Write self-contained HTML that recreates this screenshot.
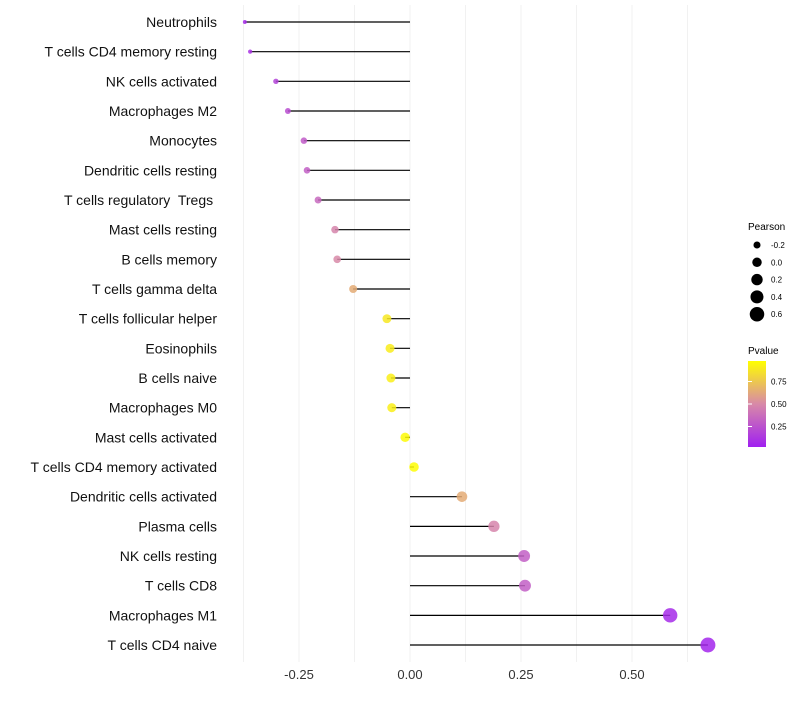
<!DOCTYPE html>
<html><head><meta charset="utf-8"><style>
body{margin:0;background:#fff;font-family:"Liberation Sans",sans-serif;}
svg text{font-family:"Liberation Sans",sans-serif;white-space:pre;}
</style></head><body>
<svg id="chart" width="800" height="700">
<g id="grid"></g><g id="marks"></g><g id="labels"></g>
<g id="legend">
<text x="748" y="230" font-size="10" fill="#000">Pearson</text>
<g id="sizeLegend"></g>
<text x="748" y="354" font-size="10" fill="#000">Pvalue</text>
<defs><linearGradient id="pg" x1="0" y1="1" x2="0" y2="0">
<stop offset="0" stop-color="#a020f0"/><stop offset="0.5" stop-color="#d889a8"/><stop offset="1" stop-color="#ffff00"/></linearGradient></defs>
<rect x="748" y="361" width="18" height="86" fill="url(#pg)"/>
<g id="colorTicks"></g>
</g>
</svg>
<script>
const categories=["Neutrophils","T cells CD4 memory resting","NK cells activated","Macrophages M2","Monocytes","Dendritic cells resting","T cells regulatory  Tregs ","Mast cells resting","B cells memory","T cells gamma delta","T cells follicular helper","Eosinophils","B cells naive","Macrophages M0","Mast cells activated","T cells CD4 memory activated","Dendritic cells activated","Plasma cells","NK cells resting","T cells CD8","Macrophages M1","T cells CD4 naive"];
const pearson=[-0.372,-0.36,-0.302,-0.275,-0.239,-0.232,-0.207,-0.169,-0.164,-0.128,-0.052,-0.045,-0.043,-0.041,-0.011,0.009,0.117,0.189,0.257,0.259,0.586,0.671];
const pvalues=[0.05,0.08,0.17,0.22,0.28,0.3,0.35,0.48,0.5,0.65,0.9,0.92,0.93,0.93,0.98,0.99,0.65,0.48,0.3,0.3,0.05,0.03];
const xTicks=[-0.25,0,0.25,0.5];
const xTickLabels=["-0.25","0.00","0.25","0.50"];
const sizeBreaks=[-0.2,0,0.2,0.4,0.6];
const sizeLabels=["-0.2","0.0","0.2","0.4","0.6"];
const colorBreaks=[0.25,0.5,0.75];
const colorLabels=["0.25","0.50","0.75"];

const NS="http://www.w3.org/2000/svg";
const X=v=>410+v*444;
const Y=i=>22+i*29.667;
const R=v=>Math.sqrt(Math.max(2.5,22.5+50*v));
function lerp(a,b,t){return Math.round(a+(b-a)*t);}
function col(p){const s=[[160,32,240],[216,137,168],[255,255,0]];let t=p*2,i=0;if(t>1){i=1;t-=1;}
return `rgb(${lerp(s[i][0],s[i+1][0],t)},${lerp(s[i][1],s[i+1][1],t)},${lerp(s[i][2],s[i+1][2],t)})`;}
function mk(tag,attrs,parent){const e=document.createElementNS(NS,tag);for(const k in attrs)e.setAttribute(k,attrs[k]);parent.appendChild(e);return e;}
const grid=document.getElementById('grid'),marks=document.getElementById('marks'),labels=document.getElementById('labels');
for(let v=-0.375;v<=0.7;v+=0.125){const l=mk('line',{x1:X(v),x2:X(v),y1:5,y2:662,stroke:'#f1f1f1','stroke-width':1},grid);

}
xTicks.forEach((v,i)=>{const t=mk('text',{x:X(v),y:679,'font-size':13,fill:'#333','text-anchor':'middle'},labels);t.textContent=xTickLabels[i];

});
categories.forEach((c,i)=>{const y=Y(i);
const t=mk('text',{x:217,y:y+5,'font-size':14,fill:'#111','text-anchor':'end'},labels);t.textContent=c;


const l=mk('line',{x1:X(0),x2:X(pearson[i]),y1:y,y2:y,stroke:'#000','stroke-width':1.2},marks);


const d=mk('circle',{cx:X(pearson[i]),cy:y,r:R(pearson[i]),fill:col(pvalues[i]),'fill-opacity':0.85},marks);

});
const sl=document.getElementById('sizeLegend');
sizeBreaks.forEach((v,i)=>{const y=245+i*17.3;
const c=mk('circle',{cx:757,cy:y,r:R(v),fill:'#000'},sl);


const t=mk('text',{x:771,y:y+3,'font-size':8,fill:'#000'},sl);t.textContent=sizeLabels[i];

});
const ct=document.getElementById('colorTicks');
colorBreaks.forEach((v,i)=>{const y=447-v*86+(v-0.5)*-4;
const t=mk('text',{x:771,y:y+3,'font-size':8,fill:'#000'},ct);t.textContent=colorLabels[i];


const l=mk('line',{x1:748,x2:752,y1:y,y2:y,stroke:'#fff'},ct);

});
</script>
</body></html>
